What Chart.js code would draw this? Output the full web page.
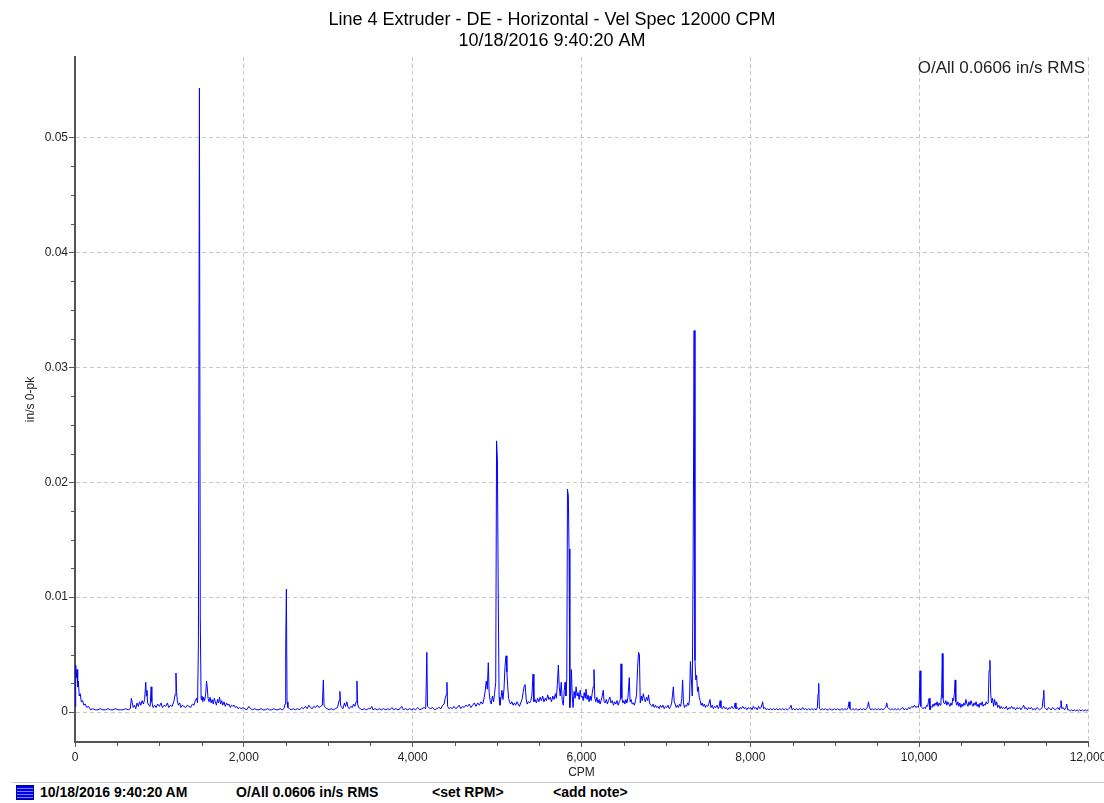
<!DOCTYPE html>
<html>
<head>
<meta charset="utf-8">
<title>Line 4 Extruder - DE - Horizontal - Vel Spec 12000 CPM</title>
<script src="https://cdn.jsdelivr.net/npm/chart.js@4.4.0/dist/chart.umd.min.js"></script>
<style>
  body { margin:0; background:#fff; width:1104px; height:803px; position:relative; overflow:hidden; font-family:'Liberation Sans', Arial, sans-serif; }
  #wrap { position:absolute; left:0; top:0; width:1104px; height:780px; }
  #overall { position:absolute; right:19px; top:58px; font-size:17px; line-height:20px; color:#222; white-space:nowrap; }
  #status { position:absolute; left:12px; right:0; top:782px; height:21px; border-top:1px solid #c8c8c8; }
  .st { position:absolute; top:1px; font-weight:bold; font-size:14px; line-height:17px; color:#000; white-space:nowrap; }
  #icon { position:absolute; left:4px; top:2px; width:18px; height:15px; box-sizing:border-box; border:1px solid #00008b;
          background:repeating-linear-gradient(#0000e6 0 2px, #7d7dff 2px 3px); }
</style>
</head>
<body>
<div id="wrap"><canvas id="specChart" width="1104" height="780"></canvas></div>
<div id="overall">O/All 0.0606 in/s RMS</div>
<div id="status">
  <div id="icon"></div>
  <div class="st" style="left:28px">10/18/2016 9:40:20 AM</div>
  <div class="st" style="left:224px">O/All 0.0606 in/s RMS</div>
  <div class="st" style="left:420px">&lt;set RPM&gt;</div>
  <div class="st" style="left:541px">&lt;add note&gt;</div>
</div>
<script>
// axis ticks
const cpmTicks = [0, 2000, 4000, 6000, 8000, 10000, 12000];
const cpmMinor = [500, 1000, 1500, 2500, 3000, 3500, 4500, 5000, 5500, 6500, 7000, 7500,
                  8500, 9000, 9500, 10500, 11000, 11500];
const ampTicks = [0, 0.01, 0.02, 0.03, 0.04, 0.05];
const ampMinor = [0.0025, 0.005, 0.0075, 0.0125, 0.015, 0.0175, 0.0225, 0.025, 0.0275,
                  0.0325, 0.035, 0.0375, 0.0425, 0.045, 0.0475];

// spectrum, [CPM, in/s 0-pk]
const band0to2k = [
  [0,0.0005],[8,0.0041],[16,0.0030],[24,0.0037],[32,0.0022],[40,0.0027],[50,0.0014],[62,0.0016],
  [75,0.0009],[90,0.0010],[105,0.0006],[120,0.0007],[140,0.0004],[160,0.0005],[185,0.0002],[210,0.0003],
  [240,0.0002],[270,0.0002],[300,0.0003],[330,0.0002],[360,0.0002],[390,0.0003],[420,0.0002],[450,0.0002],
  [480,0.0003],[510,0.0002],[540,0.0002],[570,0.0002],[600,0.0003],[630,0.0002],[655,0.0003],[668,0.0012],
  [676,0.0009],[690,0.0004],[705,0.0006],[720,0.0003],[735,0.0008],[750,0.0005],[765,0.0009],[780,0.0006],
  [795,0.0010],[810,0.0007],[825,0.0011],[838,0.0026],[846,0.0014],[852,0.0019],[860,0.0008],[875,0.0006],
  [890,0.0005],[902,0.0022],[910,0.0009],[925,0.0004],[945,0.0006],[960,0.0004],[980,0.0007],[1000,0.0005],
  [1020,0.0008],[1035,0.0004],[1055,0.0006],[1075,0.0005],[1095,0.0008],[1110,0.0004],[1130,0.0006],[1150,0.0005],
  [1170,0.0009],[1185,0.0015],[1196,0.0034],[1204,0.0017],[1212,0.0010],[1225,0.0006],[1240,0.0008],[1255,0.0004],
  [1270,0.0006],[1290,0.0005],[1310,0.0004],[1330,0.0006],[1350,0.0005],[1370,0.0004],[1390,0.0007],[1410,0.0006],
  [1425,0.0010],[1440,0.0012],[1452,0.0008],[1462,0.0059],[1474,0.0543],[1484,0.0081],[1494,0.0011],[1504,0.0014],
  [1514,0.0009],[1524,0.0013],[1536,0.0010],[1548,0.0016],[1558,0.0027],[1566,0.0022],[1576,0.0012],[1588,0.0009],
  [1600,0.0013],[1612,0.0008],[1625,0.0011],[1638,0.0007],[1650,0.0012],[1662,0.0009],[1675,0.0006],[1688,0.0011],
  [1700,0.0008],[1712,0.0013],[1725,0.0007],[1738,0.0010],[1750,0.0006],[1765,0.0009],[1780,0.0005],[1795,0.0008],
  [1810,0.0006],[1825,0.0007],[1840,0.0004],[1855,0.0006],[1870,0.0005],[1885,0.0006],[1900,0.0004],[1915,0.0005],
  [1930,0.0003],[1950,0.0004],[1970,0.0003],[1990,0.0004]
];
const band2kto4k = [
  [2010,0.0003],[2035,0.0002],[2060,0.0005],[2080,0.0003],[2105,0.0002],[2130,0.0003],[2155,0.0002],[2180,0.0002],
  [2205,0.0003],[2230,0.0002],[2255,0.0002],[2280,0.0003],[2305,0.0002],[2330,0.0002],[2355,0.0003],[2380,0.0002],
  [2405,0.0002],[2430,0.0003],[2455,0.0002],[2475,0.0003],[2488,0.0007],[2496,0.0057],[2504,0.0107],[2512,0.0009],
  [2522,0.0004],[2540,0.0003],[2560,0.0002],[2585,0.0003],[2610,0.0002],[2635,0.0003],[2660,0.0002],[2685,0.0004],
  [2705,0.0003],[2730,0.0005],[2750,0.0003],[2770,0.0006],[2790,0.0004],[2810,0.0003],[2830,0.0005],[2850,0.0004],
  [2870,0.0006],[2890,0.0004],[2910,0.0005],[2930,0.0006],[2942,0.0028],[2950,0.0006],[2965,0.0004],[2985,0.0003],
  [3010,0.0002],[3035,0.0003],[3060,0.0002],[3085,0.0003],[3110,0.0004],[3128,0.0010],[3138,0.0018],[3146,0.0006],
  [3160,0.0004],[3175,0.0003],[3192,0.0008],[3205,0.0005],[3220,0.0009],[3235,0.0004],[3250,0.0003],[3268,0.0005],
  [3285,0.0004],[3300,0.0007],[3315,0.0005],[3330,0.0009],[3340,0.0027],[3348,0.0007],[3360,0.0004],[3380,0.0003],
  [3400,0.0002],[3425,0.0003],[3450,0.0002],[3475,0.0003],[3500,0.0003],[3515,0.0005],[3530,0.0002],[3555,0.0003],
  [3580,0.0002],[3605,0.0003],[3630,0.0002],[3655,0.0003],[3680,0.0002],[3705,0.0003],[3730,0.0002],[3755,0.0004],
  [3775,0.0002],[3800,0.0003],[3825,0.0002],[3850,0.0003],[3870,0.0005],[3890,0.0002],[3915,0.0003],[3940,0.0002],
  [3965,0.0003],[3990,0.0002]
];
const band4kto6k = [
  [4010,0.0003],[4035,0.0002],[4060,0.0004],[4085,0.0002],[4110,0.0003],[4135,0.0004],[4155,0.0003],[4168,0.0052],
  [4176,0.0005],[4190,0.0004],[4210,0.0003],[4235,0.0004],[4260,0.0002],[4285,0.0003],[4310,0.0004],[4335,0.0003],
  [4355,0.0006],[4372,0.0007],[4385,0.0012],[4398,0.0015],[4406,0.0026],[4414,0.0005],[4430,0.0003],[4450,0.0004],
  [4470,0.0003],[4490,0.0005],[4510,0.0003],[4530,0.0004],[4550,0.0006],[4570,0.0003],[4590,0.0005],[4610,0.0004],
  [4630,0.0006],[4650,0.0005],[4670,0.0007],[4690,0.0004],[4710,0.0006],[4730,0.0008],[4750,0.0005],[4770,0.0008],
  [4790,0.0006],[4810,0.0009],[4830,0.0007],[4848,0.0013],[4860,0.0019],[4872,0.0027],[4884,0.0020],[4896,0.0043],
  [4906,0.0017],[4918,0.0010],[4930,0.0007],[4945,0.0014],[4958,0.0009],[4970,0.0016],[4984,0.0026],[4994,0.0236],
  [5004,0.0220],[5014,0.0099],[5024,0.0013],[5034,0.0006],[5046,0.0012],[5058,0.0019],[5070,0.0011],[5082,0.0020],
  [5094,0.0040],[5106,0.0049],[5116,0.0035],[5126,0.0022],[5136,0.0012],[5148,0.0009],[5160,0.0007],[5175,0.0009],
  [5190,0.0006],[5205,0.0008],[5220,0.0006],[5235,0.0009],[5250,0.0007],[5265,0.0005],[5280,0.0008],[5295,0.0011],
  [5308,0.0017],[5320,0.0022],[5332,0.0024],[5344,0.0012],[5356,0.0007],[5370,0.0009],[5385,0.0008],[5400,0.0010],
  [5412,0.0014],[5426,0.0033],[5436,0.0009],[5450,0.0011],[5465,0.0008],[5480,0.0012],[5495,0.0009],[5510,0.0013],
  [5525,0.0010],[5540,0.0014],[5555,0.0009],[5570,0.0012],[5585,0.0010],[5600,0.0015],[5615,0.0011],[5630,0.0013],
  [5645,0.0009],[5660,0.0014],[5675,0.0011],[5690,0.0016],[5702,0.0012],[5714,0.0024],[5726,0.0041],[5736,0.0022],
  [5748,0.0014],[5760,0.0026],[5772,0.0010],[5784,0.0006],[5796,0.0019],[5806,0.0026],[5816,0.0014],[5826,0.0030],
  [5834,0.0194],[5844,0.0188],[5852,0.0142],[5862,0.0004],[5872,0.0016],[5880,0.0037],[5890,0.0015],[5900,0.0004],
  [5912,0.0018],[5924,0.0012],[5936,0.0022],[5948,0.0014],[5960,0.0017],[5972,0.0011],[5984,0.0019],[5996,0.0013]
];
const band6kto8k = [
  [6008,0.0014],[6020,0.0010],[6032,0.0017],[6044,0.0012],[6054,0.0020],[6066,0.0011],[6078,0.0015],[6090,0.0009],
  [6102,0.0014],[6114,0.0010],[6126,0.0016],[6138,0.0022],[6148,0.0037],[6158,0.0012],[6170,0.0009],[6182,0.0013],
  [6195,0.0008],[6208,0.0011],[6220,0.0007],[6232,0.0010],[6246,0.0014],[6258,0.0019],[6268,0.0009],[6280,0.0008],
  [6294,0.0011],[6306,0.0007],[6320,0.0010],[6336,0.0013],[6350,0.0008],[6364,0.0010],[6378,0.0006],[6392,0.0009],
  [6406,0.0007],[6420,0.0010],[6434,0.0006],[6448,0.0009],[6460,0.0011],[6468,0.0042],[6478,0.0012],[6490,0.0008],
  [6502,0.0010],[6514,0.0007],[6526,0.0011],[6538,0.0008],[6550,0.0013],[6558,0.0021],[6566,0.0030],[6576,0.0009],
  [6588,0.0011],[6600,0.0007],[6614,0.0008],[6626,0.0006],[6640,0.0010],[6652,0.0015],[6664,0.0038],[6676,0.0052],
  [6686,0.0050],[6696,0.0008],[6708,0.0014],[6720,0.0010],[6732,0.0016],[6744,0.0012],[6756,0.0009],[6770,0.0013],
  [6784,0.0010],[6794,0.0015],[6806,0.0008],[6820,0.0006],[6834,0.0005],[6848,0.0007],[6862,0.0004],[6876,0.0006],
  [6890,0.0004],[6905,0.0005],[6920,0.0003],[6935,0.0006],[6950,0.0004],[6965,0.0006],[6980,0.0003],[6995,0.0005],
  [7010,0.0004],[7025,0.0006],[7040,0.0003],[7055,0.0005],[7068,0.0008],[7078,0.0015],[7088,0.0022],[7098,0.0009],
  [7110,0.0007],[7122,0.0004],[7135,0.0006],[7148,0.0004],[7162,0.0007],[7175,0.0005],[7188,0.0012],[7198,0.0028],
  [7208,0.0008],[7220,0.0004],[7232,0.0006],[7245,0.0005],[7258,0.0008],[7270,0.0006],[7280,0.0011],[7290,0.0044],
  [7300,0.0030],[7312,0.0014],[7322,0.0128],[7334,0.0332],[7344,0.0045],[7354,0.0028],[7364,0.0032],[7374,0.0018],
  [7384,0.0022],[7394,0.0013],[7406,0.0010],[7418,0.0006],[7430,0.0008],[7442,0.0005],[7455,0.0007],[7468,0.0004],
  [7480,0.0006],[7495,0.0005],[7508,0.0007],[7522,0.0011],[7534,0.0004],[7548,0.0006],[7562,0.0003],[7576,0.0005],
  [7590,0.0004],[7605,0.0006],[7620,0.0003],[7632,0.0005],[7642,0.0010],[7652,0.0004],[7668,0.0003],[7684,0.0005],
  [7700,0.0003],[7716,0.0004],[7732,0.0002],[7748,0.0004],[7764,0.0003],[7780,0.0005],[7796,0.0003],[7810,0.0004],
  [7820,0.0008],[7830,0.0003],[7846,0.0004],[7862,0.0002],[7878,0.0004],[7894,0.0003],[7910,0.0005],[7926,0.0003],
  [7942,0.0004],[7958,0.0002],[7974,0.0004],[7990,0.0003]
];
const band8kto10k = [
  [8006,0.0004],[8020,0.0002],[8036,0.0005],[8050,0.0003],[8066,0.0004],[8082,0.0002],[8098,0.0005],[8112,0.0003],
  [8128,0.0004],[8146,0.0009],[8156,0.0003],[8172,0.0004],[8188,0.0002],[8205,0.0003],[8222,0.0002],[8240,0.0003],
  [8258,0.0002],[8276,0.0003],[8294,0.0002],[8312,0.0003],[8330,0.0002],[8348,0.0003],[8366,0.0002],[8384,0.0003],
  [8402,0.0002],[8420,0.0003],[8438,0.0002],[8456,0.0003],[8472,0.0004],[8482,0.0006],[8494,0.0002],[8512,0.0003],
  [8530,0.0002],[8548,0.0003],[8566,0.0002],[8584,0.0003],[8602,0.0002],[8620,0.0004],[8638,0.0002],[8656,0.0003],
  [8674,0.0002],[8692,0.0003],[8710,0.0002],[8728,0.0003],[8746,0.0002],[8764,0.0003],[8780,0.0002],[8794,0.0004],
  [8802,0.0016],[8810,0.0025],[8818,0.0003],[8834,0.0002],[8852,0.0003],[8870,0.0002],[8888,0.0003],[8906,0.0002],
  [8924,0.0002],[8942,0.0003],[8960,0.0002],[8978,0.0002],[8996,0.0003],[9014,0.0002],[9032,0.0003],[9050,0.0002],
  [9068,0.0002],[9086,0.0003],[9104,0.0002],[9122,0.0003],[9140,0.0002],[9158,0.0004],[9170,0.0009],[9180,0.0003],
  [9198,0.0002],[9216,0.0003],[9234,0.0002],[9252,0.0003],[9270,0.0002],[9288,0.0002],[9306,0.0003],[9324,0.0002],
  [9342,0.0003],[9360,0.0002],[9378,0.0003],[9390,0.0005],[9400,0.0009],[9410,0.0004],[9426,0.0002],[9444,0.0003],
  [9462,0.0002],[9480,0.0003],[9498,0.0002],[9516,0.0003],[9534,0.0002],[9552,0.0003],[9570,0.0002],[9588,0.0003],
  [9604,0.0004],[9616,0.0008],[9626,0.0004],[9642,0.0003],[9660,0.0002],[9678,0.0003],[9696,0.0002],[9714,0.0003],
  [9732,0.0002],[9750,0.0003],[9768,0.0002],[9786,0.0003],[9804,0.0004],[9822,0.0002],[9840,0.0003],[9858,0.0002],
  [9876,0.0004],[9894,0.0003],[9912,0.0005],[9928,0.0004],[9944,0.0006],[9960,0.0004],[9976,0.0005],[9990,0.0004],
  [10000,0.0008]
];
const band10kto12k = [
  [10010,0.0036],[10020,0.0005],[10032,0.0004],[10046,0.0003],[10060,0.0004],[10074,0.0003],[10088,0.0006],[10100,0.0005],
  [10110,0.0009],[10118,0.0012],[10128,0.0002],[10140,0.0005],[10152,0.0004],[10164,0.0007],[10176,0.0005],[10188,0.0008],
  [10200,0.0006],[10212,0.0009],[10224,0.0005],[10236,0.0008],[10248,0.0006],[10258,0.0010],[10266,0.0016],[10274,0.0051],
  [10282,0.0012],[10292,0.0008],[10304,0.0007],[10316,0.0010],[10328,0.0006],[10340,0.0009],[10352,0.0007],[10364,0.0005],
  [10376,0.0008],[10388,0.0006],[10398,0.0012],[10408,0.0010],[10418,0.0017],[10426,0.0028],[10434,0.0009],[10446,0.0006],
  [10458,0.0009],[10470,0.0005],[10482,0.0008],[10494,0.0004],[10506,0.0007],[10518,0.0005],[10530,0.0008],[10542,0.0006],
  [10554,0.0011],[10566,0.0007],[10578,0.0005],[10590,0.0009],[10602,0.0006],[10614,0.0010],[10626,0.0007],[10638,0.0005],
  [10650,0.0008],[10662,0.0006],[10674,0.0009],[10686,0.0005],[10698,0.0007],[10710,0.0004],[10722,0.0008],[10734,0.0006],
  [10746,0.0009],[10758,0.0005],[10770,0.0007],[10782,0.0006],[10794,0.0009],[10806,0.0007],[10818,0.0008],[10828,0.0036],
  [10838,0.0045],[10848,0.0015],[10858,0.0008],[10870,0.0012],[10882,0.0005],[10894,0.0011],[10906,0.0006],[10918,0.0009],
  [10930,0.0004],[10944,0.0006],[10958,0.0003],[10972,0.0005],[10986,0.0003],[11000,0.0004],[11016,0.0003],[11032,0.0005],
  [11048,0.0002],[11064,0.0004],[11080,0.0003],[11096,0.0005],[11110,0.0003],[11126,0.0004],[11142,0.0002],[11158,0.0004],
  [11174,0.0003],[11190,0.0004],[11206,0.0002],[11222,0.0004],[11238,0.0006],[11250,0.0003],[11266,0.0004],[11282,0.0002],
  [11298,0.0004],[11314,0.0003],[11330,0.0004],[11346,0.0002],[11362,0.0003],[11378,0.0002],[11394,0.0004],[11410,0.0003],
  [11426,0.0002],[11442,0.0003],[11458,0.0004],[11468,0.0012],[11476,0.0019],[11484,0.0004],[11500,0.0003],[11516,0.0002],
  [11532,0.0004],[11548,0.0003],[11564,0.0002],[11580,0.0004],[11596,0.0003],[11612,0.0002],[11628,0.0003],[11644,0.0004],
  [11660,0.0002],[11672,0.0005],[11680,0.0010],[11690,0.0003],[11706,0.0004],[11722,0.0002],[11738,0.0004],[11748,0.0007],
  [11758,0.0002],[11774,0.0002],[11790,0.0001],[11806,0.0002],[11822,0.0001],[11838,0.0002],[11854,0.0001],[11870,0.0002],
  [11886,0.0001],[11902,0.0002],[11918,0.0001],[11934,0.0002],[11950,0.0001],[11966,0.0002],[11982,0.0001],[12000,0.0002]
];

const spectrum = [...band0to2k, ...band2kto4k, ...band4kto6k, ...band6kto8k, ...band8kto10k, ...band10kto12k];

const FONT = "'Liberation Sans', Arial, sans-serif";
const AXIS = '#555555';
const GRID = '#c8c8c8';

// short unlabelled ticks between the labelled ones
const minorTicks = {
    id: 'minorTicks',
    afterDraw(chart) {
        const ctx = chart.ctx;
        const xs = chart.scales.x, ys = chart.scales.y;
        ctx.save();
        ctx.strokeStyle = AXIS;
        ctx.lineWidth = 1;
        ctx.beginPath();
        cpmMinor.forEach(v => {
            const px = Math.round(xs.getPixelForValue(v)) + 0.5;
            ctx.moveTo(px, xs.top + 1);
            ctx.lineTo(px, xs.top + 4);
        });
        ampMinor.forEach(v => {
            const py = Math.round(ys.getPixelForValue(v)) + 0.5;
            ctx.moveTo(ys.right - 1, py);
            ctx.lineTo(ys.right - 4, py);
        });
        ctx.stroke();
        ctx.restore();
    }
};

const config = {
    type: 'line',
    data: {
        datasets: [{
            data: spectrum.map(p => ({x: p[0], y: p[1]})),
            borderColor: '#0000ff',
            borderWidth: 1,
            pointRadius: 0,
            tension: 0,
            fill: false
        }]
    },
    options: {
        responsive: false,
        animation: false,
        devicePixelRatio: 1,
        layout: { padding: 0 },
        plugins: {
            legend: { display: false },
            tooltip: { enabled: false },
            title: {
                display: true,
                text: ['Line 4 Extruder - DE - Horizontal - Vel Spec 12000 CPM', '10/18/2016 9:40:20 AM'],
                color: '#000',
                font: { family: FONT, size: 18, weight: 'normal', lineHeight: 1.15 },
                padding: { top: 9.5, bottom: 6.1 }
            }
        },
        scales: {
            x: {
                type: 'linear',
                min: 0,
                max: 12000,
                afterBuildTicks: s => { s.ticks = cpmTicks.map(v => ({value: v})); },
                afterFit: s => { s.height = 38; s.paddingLeft = 0; s.paddingRight = 16; },
                grid: { color: GRID, lineWidth: 1, tickLength: 5, tickColor: AXIS, tickWidth: 1, tickBorderDash: [] },
                border: { display: true, color: AXIS, width: 2, dash: [4, 3] },
                ticks: {
                    color: '#222', padding: 3, maxRotation: 0, autoSkip: false,
                    font: { family: FONT, size: 12 },
                    callback: v => v.toLocaleString('en-US')
                },
                title: { display: true, text: 'CPM', color: '#222', font: { family: FONT, size: 12 }, padding: { top: 0, bottom: 0 } }
            },
            y: {
                min: -0.0026,
                max: 0.057,
                afterBuildTicks: s => { s.ticks = ampTicks.map(v => ({value: v})); },
                afterFit: s => { s.width = 75; s.paddingTop = 0; s.paddingBottom = 0; },
                grid: { color: GRID, lineWidth: 1, tickLength: 6, tickColor: AXIS, tickWidth: 1, tickBorderDash: [] },
                border: { display: true, color: AXIS, width: 2, dash: [4, 3] },
                ticks: {
                    color: '#222', padding: 1,
                    font: { family: FONT, size: 12 },
                    callback: v => v === 0 ? '0' : v.toFixed(2)
                },
                title: { display: true, text: 'in/s 0-pk', color: '#222', font: { family: FONT, size: 12 }, padding: { top: 23, bottom: 0 } }
            }
        }
    },
    plugins: [minorTicks]
};

const specChart = new Chart(document.getElementById('specChart'), config);
</script>
</body>
</html>
